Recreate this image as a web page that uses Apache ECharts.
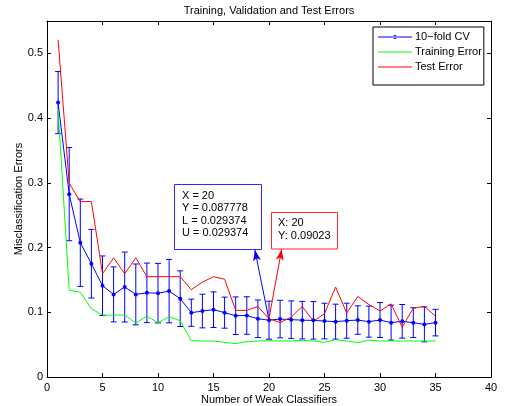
<!DOCTYPE html>
<html>
<head>
<meta charset="utf-8">
<style>
  html, body { margin: 0; padding: 0; background: #fff; }
  #chart { width: 511px; height: 406px; }
</style>
<script src="https://cdn.jsdelivr.net/npm/echarts@6/dist/echarts.min.js"></script>
</head>
<body>
<div id="chart"></div>
<script>
// number of weak classifiers
const rounds = [1, 2, 3, 4, 5, 6, 7, 8, 9, 10, 11, 12, 13, 14, 15, 16, 17, 18,
  19, 20, 21, 22, 23, 24, 25, 26, 27, 28, 29, 30, 31, 32, 33, 34, 35];
// 10-fold CV mean and error (half width)
const cvMean = [0.424, 0.2825, 0.2075, 0.175, 0.141, 0.1276, 0.139, 0.1276, 0.130, 0.1295,
  0.1327, 0.121, 0.0993, 0.1019, 0.104, 0.0994, 0.0947, 0.095, 0.090, 0.087778,
  0.0895, 0.0886, 0.0878, 0.0875, 0.0864, 0.0855, 0.087, 0.088, 0.0855, 0.088,
  0.084, 0.086, 0.084, 0.0813, 0.084];
const cvErr = [0.048, 0.072, 0.0675, 0.053, 0.046, 0.0425, 0.054, 0.047, 0.046, 0.046,
  0.049, 0.043, 0.021, 0.026, 0.0275, 0.024, 0.029, 0.029, 0.029, 0.029374,
  0.029, 0.029, 0.029, 0.029, 0.0275, 0.027, 0.027, 0.022, 0.024, 0.027,
  0.027, 0.026, 0.023, 0.027, 0.0205];
const trainErr = [0.413, 0.134, 0.131, 0.1055, 0.0957, 0.0957, 0.0957, 0.0833, 0.094, 0.084,
  0.093, 0.087, 0.056, 0.0556, 0.0556, 0.0535, 0.0515, 0.0546, 0.0556, 0.0561,
  0.0556, 0.0556, 0.0567, 0.0556, 0.0535, 0.0577, 0.0556, 0.053, 0.057, 0.0556,
  0.0556, 0.0556, 0.0556, 0.0556, 0.0556];
const testErr = [0.521, 0.2995, 0.271, 0.271, 0.1596, 0.184, 0.1596, 0.184, 0.155, 0.155,
  0.155, 0.155, 0.135, 0.1466, 0.155, 0.151, 0.103, 0.103, 0.109, 0.09023,
  0.084, 0.0926, 0.109, 0.0864, 0.0978, 0.139, 0.0988, 0.1245, 0.112, 0.102,
  0.113, 0.077, 0.1065, 0.109, 0.094];
const xTicks = { min: 0, max: 40, interval: 5 };
const yTicks = { min: 0, max: 0.55, interval: 0.1 };
const tipIndex = 19;

const FONT = "Liberation Sans";
const chart = echarts.init(document.getElementById("chart"));

const axisCommon = {
  axisLine: { show: true, onZero: false, lineStyle: { color: "#000", width: 1 } },
  axisTick: { show: true, inside: true, length: 4, lineStyle: { color: "#000" } },
  splitLine: { show: false },
  nameMoveOverlap: false
};

// legend icons: thin line, and thin line with a dot for the CV series
const lineIcon = "path://M0,0h34v1h-34z";
const dotLineIcon = "path://M0,1.5h34v1h-34zM15,2a2,2 0 1,0 4,0a2,2 0 1,0 -4,0z";

chart.setOption({
  animation: false,
  textStyle: { fontFamily: FONT },
  grid: { left: 47, right: 20, top: 21, bottom: 29, outerBoundsMode: "none" },
  legend: {
    orient: "vertical",
    left: 373,
    top: 27,
    data: [
      { name: "10−fold CV", icon: dotLineIcon },
      { name: "Training Error", icon: lineIcon },
      { name: "Test Error", icon: lineIcon }
    ],
    backgroundColor: "#fff",
    borderColor: "#000",
    borderWidth: 1,
    borderRadius: 0,
    padding: [3, 2, 11, 5],
    itemWidth: 34,
    itemHeight: 14,
    itemGap: 1,
    selectedMode: false,
    textStyle: { fontFamily: FONT, fontSize: 11, color: "#000", padding: [0, 0, 0, -2], lineHeight: 14 }
  },
  xAxis: [
    Object.assign({}, axisCommon, {
      type: "value", position: "bottom", ...xTicks,
      name: "Number of Weak Classifiers",
      nameLocation: "middle",
      nameGap: 17,
      nameTextStyle: { fontFamily: FONT, fontSize: 11, color: "#000" },
      axisLabel: { margin: 5, fontFamily: FONT, fontSize: 11, color: "#000" }
    }),
    Object.assign({}, axisCommon, {
      type: "value", position: "top", ...xTicks,
      name: "Training, Validation and Test Errors",
      nameLocation: "middle",
      nameGap: 5,
      nameTextStyle: { fontFamily: FONT, fontSize: 11, color: "#000" },
      axisLabel: { show: false }
    })
  ],
  yAxis: [
    Object.assign({}, axisCommon, {
      type: "value", position: "left", ...yTicks,
      name: "Misclassification Errors",
      nameLocation: "middle",
      nameRotate: 90,
      nameGap: 23,
      nameTextStyle: { fontFamily: FONT, fontSize: 11, color: "#000" },
      axisLabel: {
        margin: 4, fontFamily: FONT, fontSize: 11, color: "#000", showMaxLabel: false,
        formatter: v => (v > 0.5 ? "" : String(+v.toFixed(1)))
      }
    }),
    Object.assign({}, axisCommon, {
      type: "value", position: "right", ...yTicks,
      axisLabel: { show: false }
    })
  ],
  series: [
    {
      name: "cv error bars",
      type: "custom",
      data: rounds.map((r, i) => [r, cvMean[i] - cvErr[i], cvMean[i] + cvErr[i]]),
      encode: { x: 0, y: [1, 2] },
      renderItem(params, api) {
        const x = api.value(0);
        const top = api.coord([x, api.value(2)]);
        const bot = api.coord([x, api.value(1)]);
        const w = 3;
        const st = { stroke: "#0000ff", lineWidth: 1 };
        return {
          type: "group",
          children: [
            { type: "line", shape: { x1: top[0], y1: top[1], x2: bot[0], y2: bot[1] }, style: st },
            { type: "line", shape: { x1: top[0] - w, y1: top[1], x2: top[0] + w, y2: top[1] }, style: st },
            { type: "line", shape: { x1: bot[0] - w, y1: bot[1], x2: bot[0] + w, y2: bot[1] }, style: st }
          ]
        };
      }
    },
    {
      name: "10−fold CV",
      type: "line",
      data: rounds.map((r, i) => [r, cvMean[i]]),
      symbol: "circle",
      symbolSize: 4,
      showAllSymbol: true,
      itemStyle: { color: "#0000ff" },
      lineStyle: { color: "#0000ff", width: 1 },
      markLine: {
        silent: true,
        symbol: ["none", "arrow"],
        symbolSize: [6, 11],
        label: { show: false },
        lineStyle: { color: "#0000ff", width: 1, type: "solid" },
        data: [[{ coord: [rounds[tipIndex], cvMean[tipIndex]] }, { coord: [18.73, 0.1962] }]]
      }
    },
    {
      name: "Training Error",
      type: "line",
      data: rounds.map((r, i) => [r, trainErr[i]]),
      symbol: "none",
      itemStyle: { color: "#00ff00" },
      lineStyle: { color: "#00ff00", width: 1 }
    },
    {
      name: "Test Error",
      type: "line",
      data: rounds.map((r, i) => [r, testErr[i]]),
      symbol: "none",
      itemStyle: { color: "#ff0000" },
      lineStyle: { color: "#ff0000", width: 1 },
      markLine: {
        silent: true,
        symbol: ["none", "arrow"],
        symbolSize: [6, 11],
        label: { show: false },
        lineStyle: { color: "#ff0000", width: 1, type: "solid" },
        data: [[{ coord: [rounds[tipIndex], testErr[tipIndex]] }, { coord: [21.14, 0.1973] }]]
      }
    }
  ],
  graphic: [
    {
      type: "group",
      children: [
        {
          type: "rect",
          shape: { x: 174.5, y: 184.5, width: 87, height: 65 },
          style: { fill: "#fff", stroke: "#2a2aff", lineWidth: 1 }
        },
        {
          type: "text",
          style: {
            x: 182, y: 190,
            text: "X = " + rounds[tipIndex] + "\nY = " + cvMean[tipIndex] +
              "\nL = " + cvErr[tipIndex] + "\nU = " + cvErr[tipIndex],
            font: "11px " + FONT, lineHeight: 12.3, fill: "#000", verticalAlign: "top"
          }
        },
        {
          type: "rect",
          shape: { x: 271.5, y: 212.5, width: 66, height: 36.5 },
          style: { fill: "#fff", stroke: "#ff2a2a", lineWidth: 1 }
        },
        {
          type: "text",
          style: {
            x: 278, y: 216,
            text: "X: " + rounds[tipIndex] + "\nY: " + testErr[tipIndex],
            font: "11px " + FONT, lineHeight: 13, fill: "#000", verticalAlign: "top"
          }
        }
      ]
    }
  ]
});
</script>
</body>
</html>
